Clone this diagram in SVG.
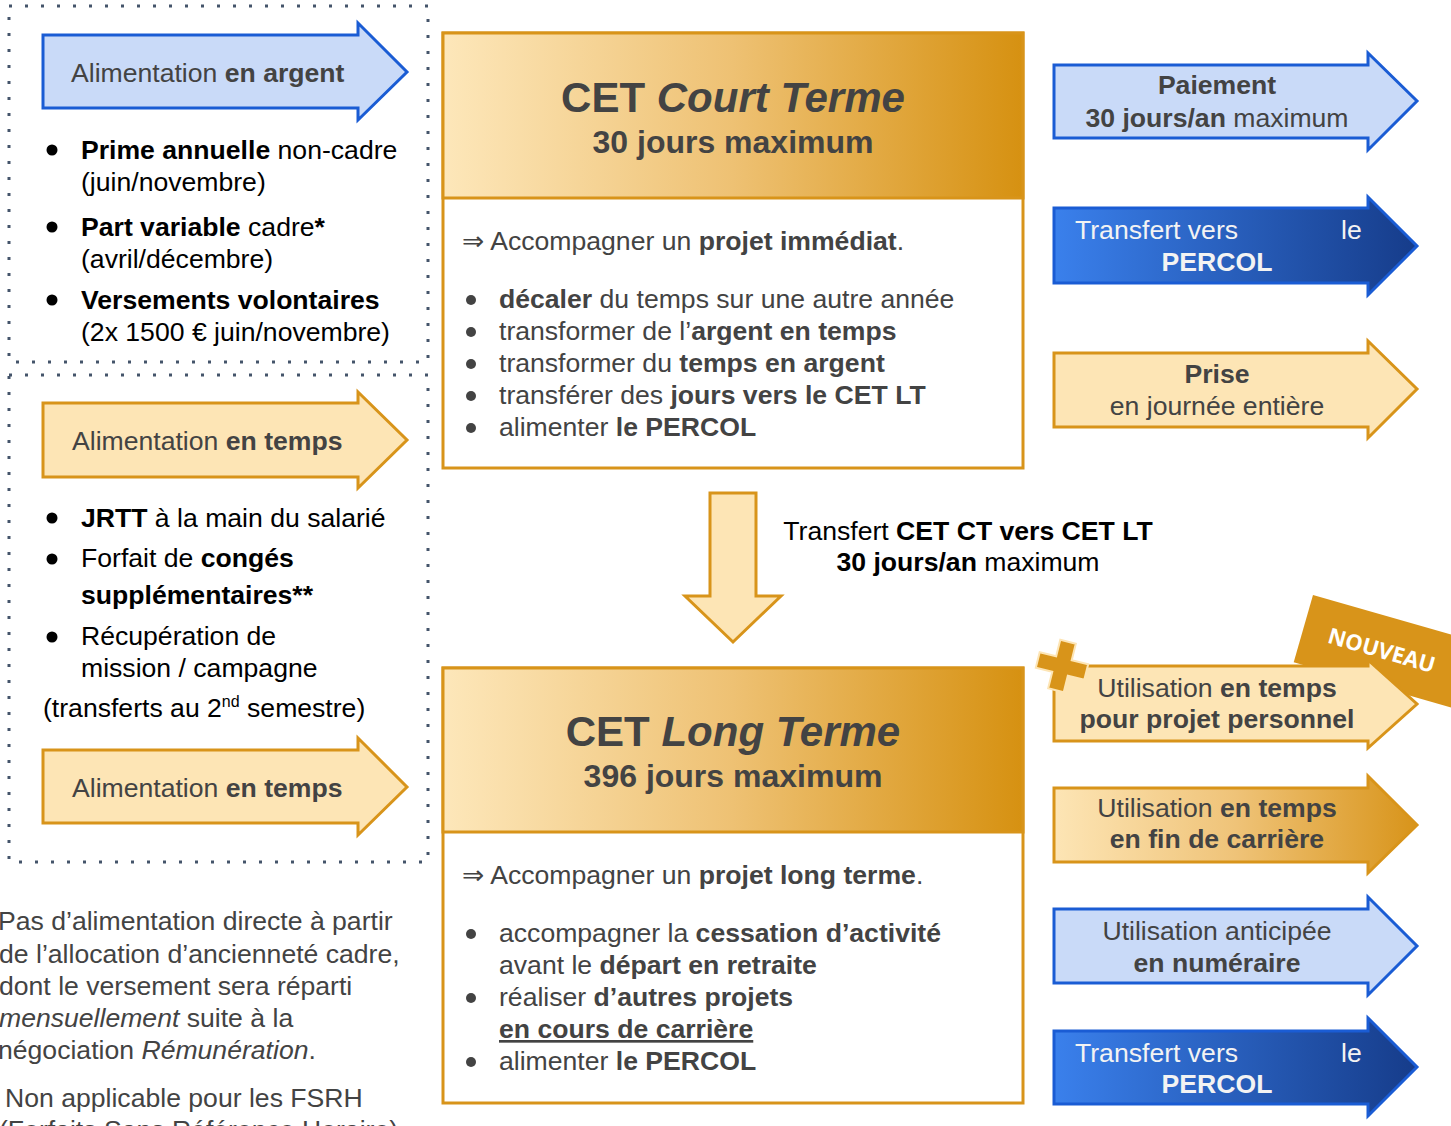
<svg xmlns="http://www.w3.org/2000/svg" width="1451" height="1126" viewBox="0 0 1451 1126">
<defs>
<linearGradient id="gHead" x1="0" y1="0" x2="1" y2="0">
<stop offset="0" stop-color="#fde7ba"/>
<stop offset="0.5" stop-color="#eec173"/>
<stop offset="1" stop-color="#d69111"/>
</linearGradient>
<linearGradient id="gOr" x1="0" y1="0" x2="1" y2="0">
<stop offset="0" stop-color="#fde5b5"/>
<stop offset="0.5" stop-color="#efc378"/>
<stop offset="1" stop-color="#d8941a"/>
</linearGradient>
<linearGradient id="gBlue" x1="0" y1="0" x2="1" y2="0">
<stop offset="0" stop-color="#3a80ec"/>
<stop offset="1" stop-color="#163c8a"/>
</linearGradient>
<style>
text{font-family:"Liberation Sans",Arial,"DejaVu Sans",sans-serif;font-size:26.6px;fill:#434343}
.b{font-weight:bold}
.i{font-style:italic}
.blk{fill:#000}
.wht{fill:#f3f3f3}
.mid{text-anchor:middle}
.t42{font-size:42px}
.t32{font-size:32px}
.sup{font-size:16px}
.nv{font-family:"Open Sans","DejaVu Sans",sans-serif;font-weight:bold;font-size:22px;fill:#fff}
.dot{fill:none;stroke:#44546a;stroke-width:3;stroke-dasharray:3 13}
.ab{fill:#c9daf8;stroke:#1a5cd4;stroke-width:3}
.ad{fill:url(#gBlue);stroke:#1a5cd4;stroke-width:3}
.ao{fill:#fde5b5;stroke:#d8941a;stroke-width:3}
.ag{fill:url(#gOr);stroke:#d8941a;stroke-width:3}
.box{fill:#fff;stroke:#d8941a;stroke-width:3}
.hd{fill:url(#gHead);stroke:#d8941a;stroke-width:3}
.bul{fill:#000}
.bulg{fill:#434343}
</style>
</defs>

<g id="frames">
<rect class="dot" x="9" y="6" width="419" height="356"/>
<rect class="dot" x="9" y="375" width="419" height="487"/>
</g>

<g id="connectors">
<path class="ao" d="M710,493 H756 V596 H781 L733,642 L685,596 H710 Z"/>
<text class="blk mid" x="968" y="540">Transfert <tspan class="b">CET CT vers CET LT</tspan></text>
<text class="blk mid" x="968" y="571"><tspan class="b">30 jours/an</tspan> maximum</text>
</g>

<g id="alim-argent">
<path class="ab" d="M43,35 H358 V23 L407,72 L358,120 V108 H43 Z"/>
<text x="71" y="82">Alimentation <tspan class="b">en argent</tspan></text>
</g>

<g id="list-argent">
<circle class="bul" cx="52" cy="150" r="5.5"/>
<text class="blk" x="81" y="159"><tspan class="b">Prime annuelle</tspan> non-cadre</text>
<text class="blk" x="81" y="191">(juin/novembre)</text>
<circle class="bul" cx="52" cy="227" r="5.5"/>
<text class="blk" x="81" y="236"><tspan class="b">Part variable</tspan> cadre<tspan class="b">*</tspan></text>
<text class="blk" x="81" y="268">(avril/décembre)</text>
<circle class="bul" cx="52" cy="300" r="5.5"/>
<text class="blk b" x="81" y="309">Versements volontaires</text>
<text class="blk" x="81" y="341">(2x 1500 € juin/novembre)</text>
</g>

<g id="alim-temps-1">
<path class="ao" d="M43,403 H358 V392 L407,440 L358,488 V477 H43 Z"/>
<text x="72" y="450">Alimentation <tspan class="b">en temps</tspan></text>
</g>

<g id="list-temps">
<circle class="bul" cx="52" cy="518" r="5.5"/>
<text class="blk" x="81" y="527"><tspan class="b">JRTT</tspan> à la main du salarié</text>
<circle class="bul" cx="52" cy="559" r="5.5"/>
<text class="blk" x="81" y="567">Forfait de <tspan class="b">congés</tspan></text>
<text class="blk b" x="81" y="604">supplémentaires**</text>
<circle class="bul" cx="52" cy="637" r="5.5"/>
<text class="blk" x="81" y="645">Récupération de</text>
<text class="blk" x="81" y="677">mission / campagne</text>
<text class="blk" x="43" y="717">(transferts au 2<tspan class="sup" dy="-10">nd</tspan><tspan dy="10"> semestre)</tspan></text>
</g>

<g id="alim-temps-2">
<path class="ao" d="M43,750 H358 V738 L407,787 L358,835 V823 H43 Z"/>
<text x="72" y="797">Alimentation <tspan class="b">en temps</tspan></text>
</g>

<g id="footnotes">
<text x="-2" y="930">Pas d’alimentation directe à partir</text>
<text x="-1" y="963">de l’allocation d’ancienneté cadre,</text>
<text x="-1" y="995">dont le versement sera réparti</text>
<text x="-1" y="1027"><tspan class="i">mensuellement</tspan> suite à la</text>
<text x="-2" y="1059">négociation <tspan class="i">Rémunération</tspan>.</text>
<text x="5" y="1107">Non applicable pour les FSRH</text>
<text x="-1" y="1139">(Forfaits Sans Référence Horaire)</text>
</g>

<g id="cet-ct">
<rect class="box" x="443" y="33" width="580" height="435"/>
<rect class="hd" x="443" y="33" width="580" height="165"/>
<text class="b mid t42" x="733" y="112">CET <tspan class="i">Court Terme</tspan></text>
<text class="b mid t32" x="733" y="153">30 jours maximum</text>
<text x="462" y="250">⇒ Accompagner un <tspan class="b">projet immédiat</tspan>.</text>
<circle class="bulg" cx="471" cy="300" r="5"/>
<text x="499" y="308"><tspan class="b">décaler</tspan> du temps sur une autre année</text>
<circle class="bulg" cx="471" cy="332" r="5"/>
<text x="499" y="340">transformer de l’<tspan class="b">argent en temps</tspan></text>
<circle class="bulg" cx="471" cy="364" r="5"/>
<text x="499" y="372">transformer du <tspan class="b">temps en argent</tspan></text>
<circle class="bulg" cx="471" cy="396" r="5"/>
<text x="499" y="404">transférer des <tspan class="b">jours vers le CET LT</tspan></text>
<circle class="bulg" cx="471" cy="428" r="5"/>
<text x="499" y="436">alimenter <tspan class="b">le PERCOL</tspan></text>
</g>

<g id="cet-lt">
<rect class="box" x="443" y="668" width="580" height="435"/>
<rect class="hd" x="443" y="668" width="580" height="164"/>
<text class="b mid t42" x="733" y="746">CET <tspan class="i">Long Terme</tspan></text>
<text class="b mid t32" x="733" y="787">396 jours maximum</text>
<text x="462" y="884">⇒ Accompagner un <tspan class="b">projet long terme</tspan>.</text>
<circle class="bulg" cx="471" cy="934" r="5"/>
<text x="499" y="942">accompagner la <tspan class="b">cessation d’activité</tspan></text>
<text x="499" y="974">avant le <tspan class="b">départ en retraite</tspan></text>
<circle class="bulg" cx="471" cy="998" r="5"/>
<text x="499" y="1006">réaliser <tspan class="b">d’autres projets</tspan></text>
<text class="b" x="499" y="1038" text-decoration="underline">en cours de carrière</text>
<circle class="bulg" cx="471" cy="1062" r="5"/>
<text x="499" y="1070">alimenter <tspan class="b">le PERCOL</tspan></text>
</g>

<g id="paiement">
<path class="ab" d="M1054,65 H1368 V53 L1417,101 L1368,150 V138 H1054 Z"/>
<text class="b mid" x="1217" y="94">Paiement</text>
<text class="mid" x="1217" y="127"><tspan class="b">30 jours/an</tspan> maximum</text>
</g>

<g id="percol-ct">
<path class="ad" d="M1054,208 H1368 V197 L1417,246 L1368,295 V283 H1054 Z"/>
<text class="wht" x="1075" y="239">Transfert vers</text>
<text class="wht" x="1341" y="239">le</text>
<text class="wht b mid" x="1217" y="271">PERCOL</text>
</g>

<g id="prise">
<path class="ao" d="M1054,353 H1368 V341 L1417,389 L1368,438 V427 H1054 Z"/>
<text class="b mid" x="1217" y="383">Prise</text>
<text class="mid" x="1217" y="415">en journée entière</text>
</g>

<g id="nouveau">
<g transform="translate(1313,595) rotate(16)">
<rect x="0" y="0" width="200" height="70" fill="#d8941a"/>
<text class="nv" x="26" y="42">NOUVEAU</text>
</g>
</g>

<g id="projet-perso">
<path class="ao" d="M1054,666 H1368 V660 L1417,704 L1368,748 V741 H1054 Z"/>
<text class="mid" x="1217" y="697">Utilisation <tspan class="b">en temps</tspan></text>
<text class="b mid" x="1217" y="728">pour projet personnel</text>
</g>

<g id="plus">
<g transform="translate(1062,666) rotate(14)">
<path d="M-8,-25 H8 V-8 H25 V8 H8 V25 H-8 V8 H-25 V-8 H-8 Z" fill="#d8941a" stroke="#fde5b5" stroke-width="2"/>
</g>
</g>

<g id="fin-carriere">
<path class="ag" d="M1054,788 H1368 V776 L1417,825 L1368,873 V862 H1054 Z"/>
<text class="mid" x="1217" y="817">Utilisation <tspan class="b">en temps</tspan></text>
<text class="b mid" x="1217" y="848">en fin de carrière</text>
</g>

<g id="numeraire">
<path class="ab" d="M1054,909 H1368 V897 L1417,946 L1368,995 V983 H1054 Z"/>
<text class="mid" x="1217" y="940">Utilisation anticipée</text>
<text class="b mid" x="1217" y="972">en numéraire</text>
</g>

<g id="percol-lt">
<path class="ad" d="M1054,1031 H1368 V1018 L1417,1067 L1368,1116 V1104 H1054 Z"/>
<text class="wht" x="1075" y="1062">Transfert vers</text>
<text class="wht" x="1341" y="1062">le</text>
<text class="wht b mid" x="1217" y="1093">PERCOL</text>
</g>
</svg>
